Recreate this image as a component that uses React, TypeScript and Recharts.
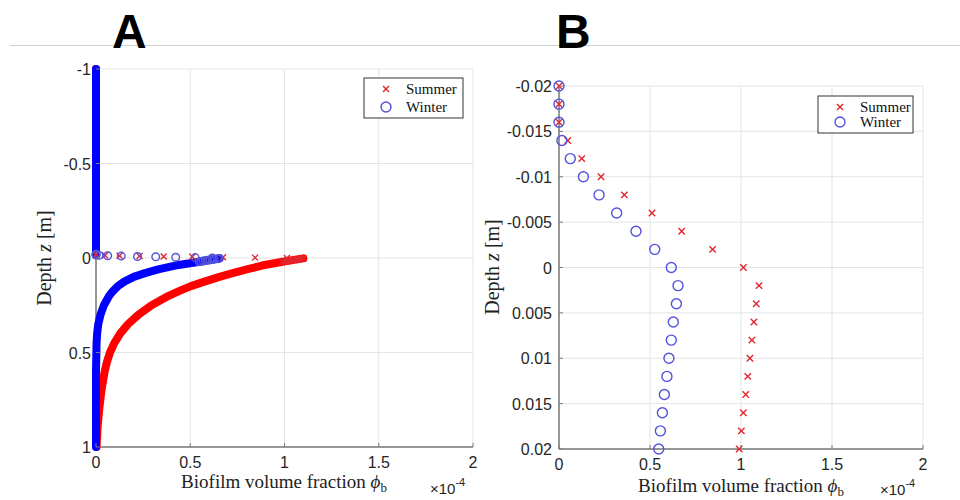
import React from "react";
import { ScatterChart, Scatter, XAxis, YAxis, CartesianGrid } from "recharts";

// biofilm volume fraction phi_b, in units of 1e-4, against depth z [m]

// near-surface profile (panel B, also shown as markers in panel A)
const zFine = [-0.02, -0.018, -0.016, -0.014, -0.012, -0.01, -0.008, -0.006, -0.004, -0.002, 0, 0.002, 0.004, 0.006, 0.008, 0.01, 0.012, 0.014, 0.016, 0.018, 0.02];
const summerFine = [0, 0, 0, 0.048, 0.125, 0.231, 0.359, 0.511, 0.674, 0.844, 1.013, 1.099, 1.084, 1.071, 1.06, 1.049, 1.037, 1.026, 1.013, 1.002, 0.99];
const winterFine = [0, 0, 0, 0.016, 0.062, 0.134, 0.22, 0.317, 0.423, 0.526, 0.617, 0.654, 0.645, 0.628, 0.617, 0.604, 0.593, 0.579, 0.568, 0.557, 0.548];

// full column, panel A: water above the surface
const zWater = [-1, -0.75, -0.5, -0.25, -0.016];
const summerWater = [0, 0, 0, 0, 0];
const winterWater = [0, 0, 0, 0, 0];

// full column, panel A: sediment below the surface
const zBed = [0.002, 0.01, 0.02, 0.04, 0.06, 0.08, 0.1, 0.125, 0.15, 0.175, 0.2, 0.25, 0.3, 0.35, 0.4, 0.45, 0.5, 0.55, 0.6, 0.7, 0.8, 0.9, 1.0];
const summerBed = [1.1, 1.05, 0.99, 0.88, 0.8, 0.725, 0.655, 0.575, 0.5, 0.44, 0.385, 0.295, 0.225, 0.17, 0.128, 0.097, 0.074, 0.058, 0.046, 0.029, 0.017, 0.008, 0.003];
const winterBed = [0.655, 0.6, 0.55, 0.42, 0.33, 0.26, 0.2, 0.15, 0.115, 0.09, 0.07, 0.042, 0.024, 0.012, 0.006, 0.003, 0.002, 0.001, 0, 0, 0, 0, 0];

const phiTicks = [0, 0.5, 1, 1.5, 2];
const zTicksA = [-1, -0.5, 0, 0.5, 1];
const zTicksB = [-0.02, -0.015, -0.01, -0.005, 0, 0.005, 0.01, 0.015, 0.02];

const seriesNames = ["Summer", "Winter"];

const SANS = "'Liberation Sans', Arial, sans-serif";
const SERIF = "'Liberation Serif', 'Times New Roman', serif";
const AXIS = "#7a7a7a";
const TICK = "#262626";
const GRID = "#e4e4e4";
const RED = "#ff0000";
const BLUE = "#0000ff";
const CROSS = "#e0282e";
const RING = "#5252dc";

const pts = (z: number[], phi: number[]) => z.map((v, i) => ({ z: v, phi: phi[i] }));

const crossShape = (s: number) => (p: any) => (
    <g stroke={CROSS} strokeWidth={1.4}>
        <line x1={p.cx - s} y1={p.cy - s} x2={p.cx + s} y2={p.cy + s} />
        <line x1={p.cx - s} y1={p.cy + s} x2={p.cx + s} y2={p.cy - s} />
    </g>
);
const ringShape = (r: number) => (p: any) => (
    <circle cx={p.cx} cy={p.cy} r={r} fill="none" stroke={RING} strokeWidth={1.4} />
);
const noShape = () => <g />;

const bottomTick = (p: any) => (
    <g>
        <line x1={p.x} y1={p.y} x2={p.x} y2={p.y - 4} stroke={AXIS} />
        <text x={p.x} y={p.y + 21} textAnchor="middle" fontFamily={SANS} fontSize={16} fill={TICK}>
            {p.payload.value}
        </text>
    </g>
);
const topTick = (p: any) => <line x1={p.x} y1={p.y} x2={p.x} y2={p.y + 4} stroke={AXIS} />;
const leftTick = (gap: number) => (p: any) => (
    <g>
        <line x1={p.x} y1={p.y} x2={p.x + 4} y2={p.y} stroke={AXIS} />
        <text x={p.x - gap} y={p.y + 6} textAnchor="end" fontFamily={SANS} fontSize={16} fill={TICK}>
            {p.payload.value}
        </text>
    </g>
);
const rightTick = (p: any) => <line x1={p.x} y1={p.y} x2={p.x - 4} y2={p.y} stroke={AXIS} />;

function Panel({ left, top, margin, yWidth, zDomain, zTicks, gap, full }: any) {
    const line = (color: string) => ({ stroke: color, strokeWidth: 8, strokeLinecap: "round", strokeLinejoin: "round" });
    return (
        <div style={{ position: "absolute", left, top }}>
            <ScatterChart width={480} height={500} margin={margin}>
                <CartesianGrid xAxisId="b" yAxisId="l" stroke={GRID} />
                <XAxis xAxisId="b" orientation="bottom" type="number" dataKey="phi" domain={[0, 2]} ticks={phiTicks}
                    interval={0} height={30} tickSize={0} tickMargin={0} tickLine={false}
                    axisLine={{ stroke: AXIS, strokeWidth: 1.5 }} tick={bottomTick} />
                <XAxis xAxisId="t" orientation="top" type="number" domain={[0, 2]} ticks={phiTicks}
                    interval={0} height={0} tickSize={0} tickMargin={0} tickLine={false}
                    axisLine={{ stroke: AXIS, strokeWidth: 1.5 }} tick={topTick} />
                <YAxis yAxisId="l" orientation="left" type="number" dataKey="z" domain={zDomain} ticks={zTicks}
                    reversed interval={0} width={yWidth} tickSize={0} tickMargin={0} tickLine={false}
                    axisLine={{ stroke: AXIS, strokeWidth: 1.5 }} tick={leftTick(gap)} />
                <YAxis yAxisId="r" orientation="right" type="number" domain={zDomain} ticks={zTicks}
                    reversed interval={0} width={0} tickSize={0} tickMargin={0} tickLine={false}
                    axisLine={{ stroke: AXIS, strokeWidth: 1.5 }} tick={rightTick} />
                {full && (
                    <Scatter xAxisId="b" yAxisId="l" data={pts(zBed, summerBed)} line={line(RED)}
                        shape={noShape} isAnimationActive={false} />
                )}
                {full && (
                    <Scatter xAxisId="b" yAxisId="l" data={pts(zWater, summerWater)} line={line(RED)}
                        shape={noShape} isAnimationActive={false} />
                )}
                {full && (
                    <Scatter xAxisId="b" yAxisId="l" data={pts(zWater, winterWater)} line={line(BLUE)}
                        shape={noShape} isAnimationActive={false} />
                )}
                {full && (
                    <Scatter xAxisId="b" yAxisId="l" data={pts(zBed, winterBed)} line={line(BLUE)}
                        shape={noShape} isAnimationActive={false} />
                )}
                <Scatter name={seriesNames[0]} xAxisId="b" yAxisId="l" data={pts(zFine, summerFine)}
                    shape={crossShape(full ? 3 : 3.2)} isAnimationActive={false} />
                <Scatter name={seriesNames[1]} xAxisId="b" yAxisId="l" data={pts(zFine, winterFine)}
                    shape={ringShape(full ? 3.8 : 5)} isAnimationActive={false} />
            </ScatterChart>
        </div>
    );
}

function LegendBox({ x, y, w, h }: { x: number; y: number; w: number; h: number }) {
    const mx = x + 22;
    return (
        <g>
            <rect x={x} y={y} width={w} height={h} fill="#fff" stroke="#333" strokeWidth={1} />
            <g stroke={CROSS} strokeWidth={1.4}>
                <line x1={mx - 3} y1={y + 8} x2={mx + 3} y2={y + 14} />
                <line x1={mx - 3} y1={y + 14} x2={mx + 3} y2={y + 8} />
            </g>
            <circle cx={mx} cy={y + h - 11} r={5} fill="none" stroke={RING} strokeWidth={1.4} />
            <text x={x + 42} y={y + 16} fontFamily={SERIF} fontSize={15} fill="#111">{seriesNames[0]}</text>
            <text x={x + 42} y={y + h - 6} fontFamily={SERIF} fontSize={15} fill="#111">{seriesNames[1]}</text>
        </g>
    );
}

function AxisTitles({ cx, cy, yx, xBase, expX, expBase }: any) {
    return (
        <g fontFamily={SERIF} fontSize={19} fill="#222">
            <text x={yx} y={cy} textAnchor="middle" dominantBaseline="central" fontSize={20}
                transform={`rotate(-90 ${yx} ${cy})`}>
                Depth <tspan fontStyle="italic">z</tspan> [m]
            </text>
            <text x={cx} y={xBase} textAnchor="middle">
                Biofilm volume fraction <tspan fontStyle="italic">ϕ</tspan>
                <tspan fontSize={13} dy={4}>b</tspan>
            </text>
            <text x={expX} y={expBase} fontFamily={SANS} fontSize={15} fill={TICK}>
                ×10<tspan fontSize={11} dy={-8}>-4</tspan>
            </text>
        </g>
    );
}

export default function App() {
    return (
        <div style={{ position: "absolute", left: 0, top: 0, width: 960, height: 500, background: "#fff", overflow: "hidden" }}>
            <Panel left={0} top={0} margin={{ top: 69, right: 7, bottom: 23, left: 0 }} yWidth={96}
                zDomain={[-1, 1]} zTicks={zTicksA} gap={5} full />
            <Panel left={480} top={0} margin={{ top: 86, right: 37, bottom: 21, left: 0 }} yWidth={79}
                zDomain={[-0.02, 0.02]} zTicks={zTicksB} gap={7} full={false} />
            <svg width={960} height={500} style={{ position: "absolute", left: 0, top: 0, pointerEvents: "none" }}>
                <line x1={10} y1={45.5} x2={960} y2={45.5} stroke="#cfcfcf" strokeWidth={1} />
                <text x={112} y={48} fontFamily={SANS} fontWeight="bold" fontSize={48} fill="#000">A</text>
                <text x={556} y={48} fontFamily={SANS} fontWeight="bold" fontSize={48} fill="#000">B</text>
                <LegendBox x={364} y={78} w={99} h={40} />
                <LegendBox x={818} y={96} w={95} h={37} />
                <AxisTitles cx={284} cy={258} yx={44} xBase={488} expX={430} expBase={494} />
                <AxisTitles cx={741} cy={267} yx={492} xBase={492} expX={880} expBase={495} />
            </svg>
        </div>
    );
}
